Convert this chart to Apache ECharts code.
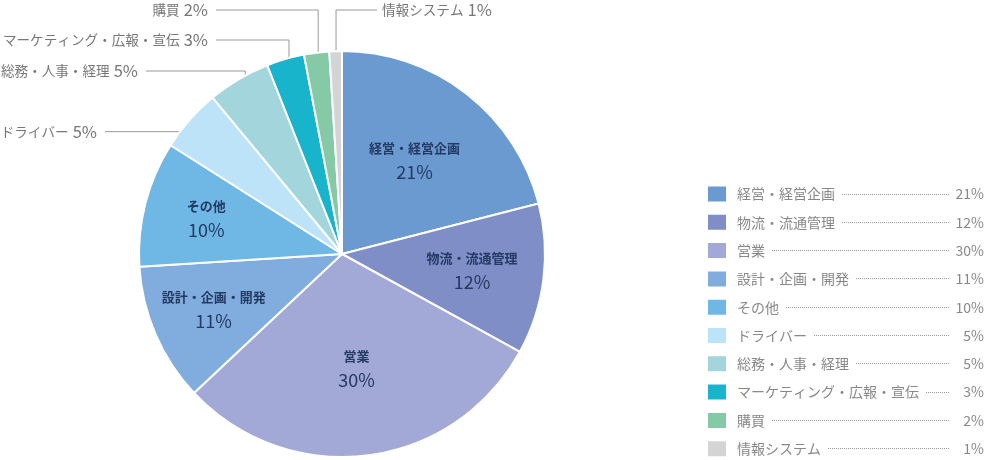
<!DOCTYPE html>
<html><head><meta charset="utf-8">
<script src="https://cdn.jsdelivr.net/npm/echarts@6/dist/echarts.min.js"></script>
<style>html,body{margin:0;padding:0;background:#fff}#c{width:986px;height:460px}</style>
</head><body><div id="c"></div>
<script>
// ---- data ----
const categories = ['経営・経営企画','物流・流通管理','営業','設計・企画・開発','その他','ドライバー','総務・人事・経理','マーケティング・広報・宣伝','購買','情報システム'];
const values = [21,12,30,11,10,5,5,3,2,1];
const colors = ['#6b9ad1','#7f8ec7','#a2a9d6','#80addd','#6fb8e6','#bce3f8','#a2d5dc','#18b4cc','#86c9a7','#d4d4d4'];

// ---- layout / style ----
const FONT = '"Noto Sans CJK JP", "Noto Sans", sans-serif';
const CX = 342, CY = 254, R = 203;
const insideRadius = [118, 131, 116, 140, 140];
const anchorRadius = [0, 0, 0, 0, 0, 185, 190, 190, 190, 190];
// [label x, label y (null = same as anchor), align]
const outerLabels = {5: [97, null, 'right'], 6: [138, 71, 'right'], 7: [208, 40, 'right'], 8: [208, 10, 'right'], 9: [382, 10, 'left']};

// legend dotted leaders
const LEG_TEXT_X = 736, DOT_END = 949;
const mctx = document.createElement('canvas').getContext('2d');
mctx.font = '14px ' + FONT;
const legendRich = {
  n: {fontFamily: FONT, fontSize: 14, color: '#888', padding: [0, 7, 0, 5], lineHeight: 17},
  p: {fontFamily: FONT, fontSize: 14, color: '#888', width: 34, align: 'right', lineHeight: 17}
};
categories.forEach((name, i) => {
  const w = Math.max(4, Math.round(DOT_END - (LEG_TEXT_X + mctx.measureText(name).width + 7)));
  const cv = document.createElement('canvas');
  cv.width = w; cv.height = 1;
  const c2 = cv.getContext('2d');
  c2.fillStyle = '#9a9a9a';
  for (let x = 0; x < w; x += 2) c2.fillRect(x, 0, 1, 1);
  legendRich['d' + i] = {width: w, height: 1, backgroundColor: {image: cv}};
});

const chart = echarts.init(document.getElementById('c'));
chart.setOption({
  animation: false,
  textStyle: {fontFamily: FONT},
  legend: {
    orient: 'vertical', left: 706, top: 184.5, padding: 0,
    itemWidth: 20, itemHeight: 17, itemGap: 9.3,
    icon: 'rect', selectedMode: false,
    data: categories,
    formatter: name => { const i = categories.indexOf(name); return '{n|' + name + '}{d' + i + '|}{p|' + values[i] + '%}'; },
    textStyle: {fontFamily: FONT, rich: legendRich}
  },
  series: [{
    type: 'pie',
    center: [CX, CY], radius: R,
    startAngle: 90, clockwise: true,
    avoidLabelOverlap: false,
    silent: true,
    emphasis: {scale: false},
    itemStyle: {borderColor: '#fff', borderWidth: 2},
    data: categories.map((name, i) => ({
      name, value: values[i],
      itemStyle: {color: colors[i]},
      label: {position: i < 5 ? 'inside' : 'outside'},
      labelLine: {show: i >= 5}
    })),
    label: {
      show: true,
      formatter: p => p.dataIndex < 5 ? '{in|' + p.name + '}\n{ip|' + p.value + '%}' : '{on|' + p.name + '}{op|' + p.value + '%}',
      rich: {
        in: {fontFamily: FONT, fontSize: 13, fontWeight: 'bold', color: '#243a62', lineHeight: 22, align: 'center'},
        ip: {fontFamily: FONT, fontSize: 18, color: '#243a62', lineHeight: 26, align: 'center'},
        on: {fontFamily: FONT, fontSize: 13.6, color: '#777', lineHeight: 20},
        op: {fontFamily: FONT, fontSize: 16.5, color: '#777', lineHeight: 20, padding: [0, 0, 0, 4]}
      }
    },
    labelLine: {show: true, length: 10, length2: 10, lineStyle: {color: '#999', width: 1}},
    labelLayout: function (p) {
      const i = p.dataIndex;
      if (i < 5) {
        const mx = p.labelRect.x + p.labelRect.width / 2, my = p.labelRect.y + p.labelRect.height / 2;
        const dx = mx - CX, dy = my - CY, L = Math.hypot(dx, dy) || 1;
        const r = insideRadius[i];
        return {x: CX + dx / L * r, y: CY + dy / L * r, align: 'center', verticalAlign: 'middle'};
      }
      const pts = p.labelLinePoints;
      const dx = pts[0][0] - CX, dy = pts[0][1] - CY, L = Math.hypot(dx, dy) || 1;
      const ar = anchorRadius[i];
      const ax = CX + dx / L * ar, ay = CY + dy / L * ar;
      const o = outerLabels[i];
      const ly = o[1] == null ? ay : o[1];
      const ex = o[2] === 'right' ? o[0] + 8 : o[0] - 5;
      return {x: o[0], y: ly, align: o[2], verticalAlign: 'middle', labelLinePoints: [[ax, ay], [ax, ly], [ex, ly]]};
    }
  }]
});
</script></body></html>
